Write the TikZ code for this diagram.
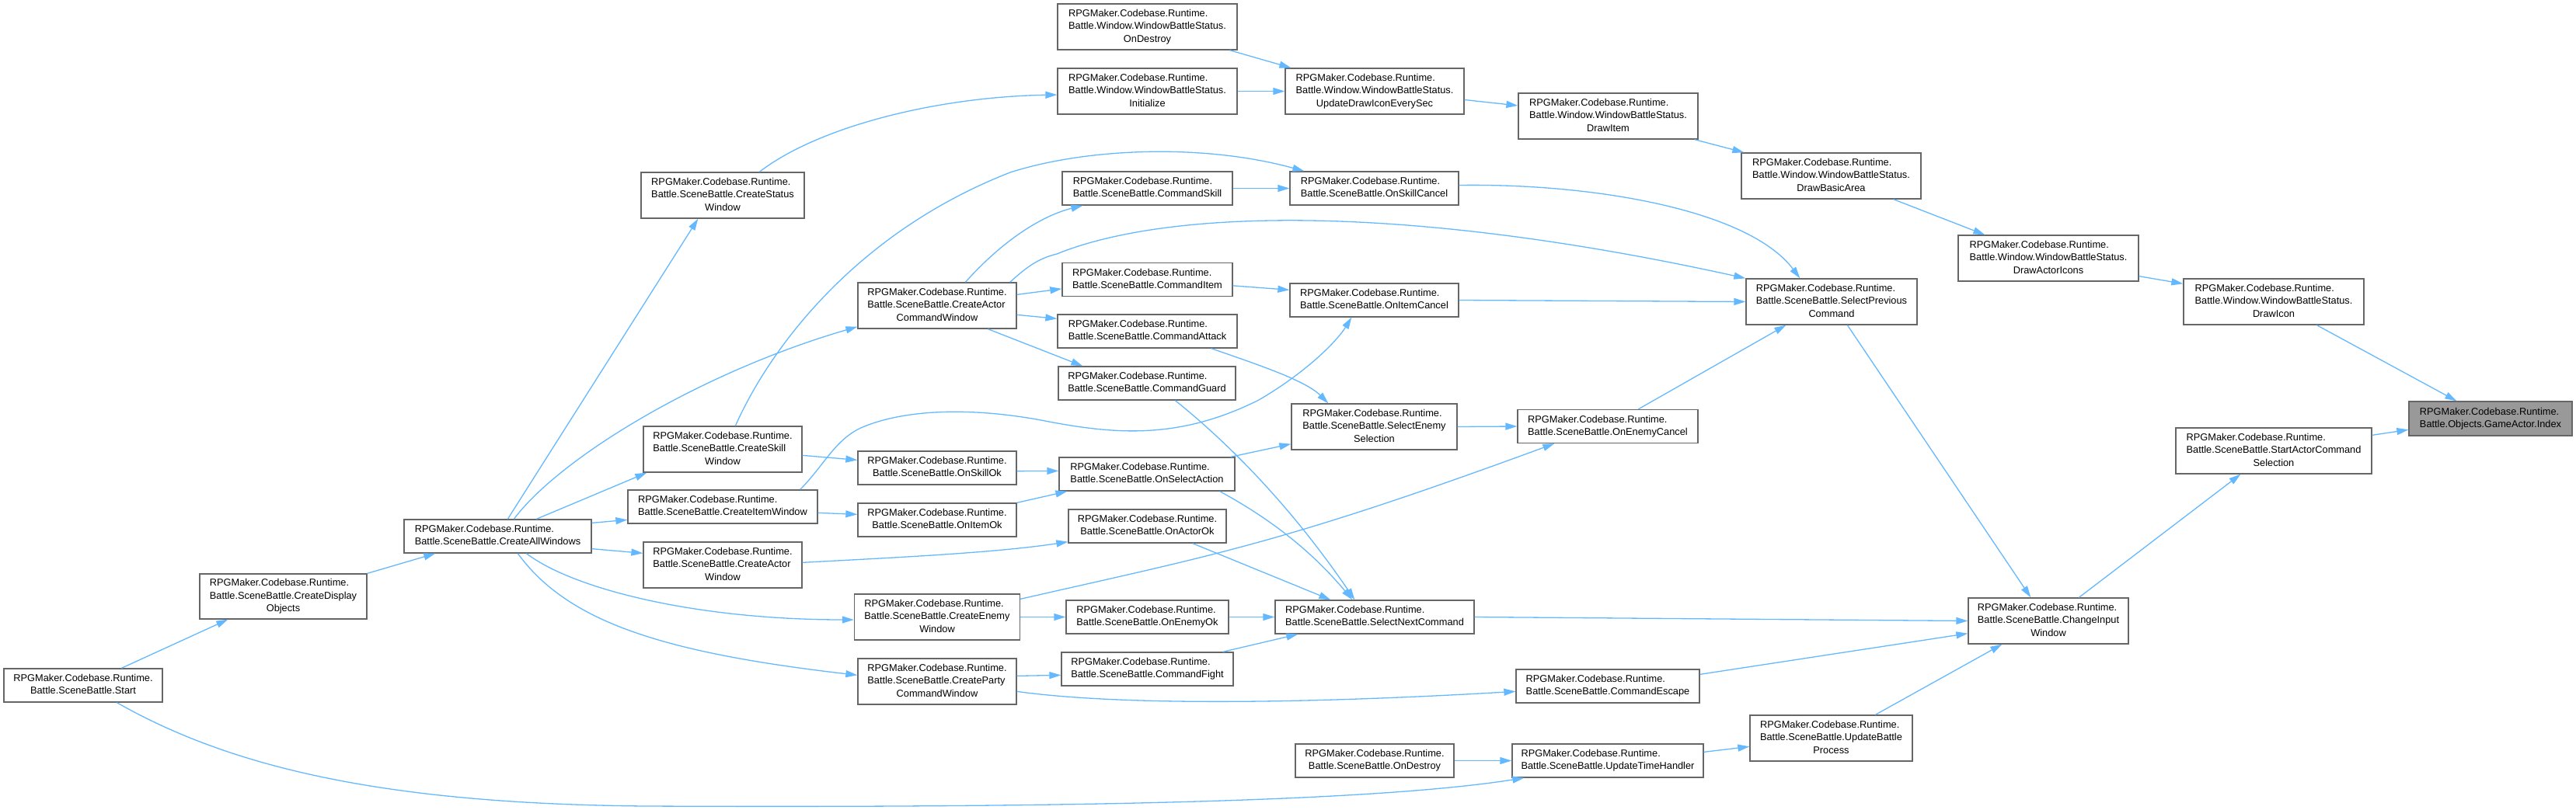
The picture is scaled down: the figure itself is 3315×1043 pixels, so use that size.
\documentclass[tikz,border=0pt]{standalone}
\usepackage{fontspec}
\setmainfont{Liberation Sans}
\usetikzlibrary{arrows.meta,calc}
\definecolor{edgec}{HTML}{63B8FF}
\definecolor{bordc}{HTML}{666666}
\definecolor{rootc}{HTML}{999999}
\newcommand{\rpg}{RPGMaker.Codebase.Runtime.}
\newlength{\lbw}\newlength{\lbt}
\newcommand{\maxw}[1]{\settowidth{\lbt}{#1}\ifdim\lbt>\lbw\setlength{\lbw}{\lbt}\fi}
\newcommand{\lblii}[2]{\setlength{\lbw}{0pt}\maxw{#1}\maxw{#2}\begin{tabular}{@{}l@{}}#1\\\makebox[\lbw][c]{#2}\end{tabular}}
\newcommand{\lbliii}[3]{\setlength{\lbw}{0pt}\maxw{#1}\maxw{#2}\maxw{#3}\begin{tabular}{@{}l@{}}#1\\#2\\\makebox[\lbw][c]{#3}\end{tabular}}
\begin{document}
\begin{tikzpicture}[x=1pt,y=-1pt,
  box/.style={draw=bordc,line width=1.3pt,fill=white,inner sep=0pt,font=\fontsize{12.8}{16.3}\selectfont},
  rootbox/.style={box,fill=rootc},
  e/.style={draw=edgec,line width=1.3pt,-{Triangle[length=15pt,width=9pt]}}]
\useasboundingbox (0,0) rectangle (3315,1043);

% column 0-1
\node[box,minimum width=204,minimum height=43] (start) at (107,882.5) {\lblii{\rpg}{Battle.SceneBattle.Start}};
\node[box,minimum width=215,minimum height=58] (cdo) at (364.5,768) {\lbliii{\rpg}{Battle.SceneBattle.CreateDisplay}{Objects}};
\node[box,minimum width=241,minimum height=43] (caw) at (640.5,690.5) {\lblii{\rpg}{Battle.SceneBattle.CreateAllWindows}};
% column 2
\node[box,minimum width=210,minimum height=59] (csw) at (930,251.5) {\lbliii{\rpg}{Battle.SceneBattle.CreateStatus}{Window}};
\node[box,minimum width=204,minimum height=59] (cskw) at (930,578.5) {\lbliii{\rpg}{Battle.SceneBattle.CreateSkill}{Window}};
\node[box,minimum width=244,minimum height=43] (ciw) at (930,652.5) {\lblii{\rpg}{Battle.SceneBattle.CreateItemWindow}};
\node[box,minimum width=204,minimum height=59] (cactw) at (930,727.5) {\lbliii{\rpg}{Battle.SceneBattle.CreateActor}{Window}};
% column 3
\node[box,minimum width=204,minimum height=59] (cacmd) at (1206,393.5) {\lbliii{\rpg}{Battle.SceneBattle.CreateActor}{CommandWindow}};
\node[box,minimum width=204,minimum height=43] (osko) at (1206,602.5) {\lblii{\rpg}{Battle.SceneBattle.OnSkillOk}};
\node[box,minimum width=204,minimum height=43] (oio) at (1206,669.5) {\lblii{\rpg}{Battle.SceneBattle.OnItemOk}};
\node[box,minimum width=213,minimum height=59] (cew) at (1206,794.5) {\lbliii{\rpg}{Battle.SceneBattle.CreateEnemy}{Window}};
\node[box,minimum width=204,minimum height=59] (cpcw) at (1206,877.5) {\lbliii{\rpg}{Battle.SceneBattle.CreateParty}{CommandWindow}};
% column 4
\node[box,minimum width=231,minimum height=59] (odw) at (1476.5,34.5) {\lbliii{\rpg}{Battle.Window.WindowBattleStatus.}{OnDestroy}};
\node[box,minimum width=231,minimum height=59] (init) at (1476.5,117.5) {\lbliii{\rpg}{Battle.Window.WindowBattleStatus.}{Initialize}};
\node[box,minimum width=219,minimum height=43] (csk) at (1476.5,242.5) {\lblii{\rpg}{Battle.SceneBattle.CommandSkill}};
\node[box,minimum width=219,minimum height=43] (cit) at (1476.5,360) {\lblii{\rpg}{Battle.SceneBattle.CommandItem}};
\node[box,minimum width=231,minimum height=43] (cat) at (1476.5,426.5) {\lblii{\rpg}{Battle.SceneBattle.CommandAttack}};
\node[box,minimum width=228,minimum height=43] (cgu) at (1476,493.5) {\lblii{\rpg}{Battle.SceneBattle.CommandGuard}};
\node[box,minimum width=226,minimum height=43] (osa) at (1476,610.5) {\lblii{\rpg}{Battle.SceneBattle.OnSelectAction}};
\node[box,minimum width=203,minimum height=43] (oao) at (1476.5,677.5) {\lblii{\rpg}{Battle.SceneBattle.OnActorOk}};
\node[box,minimum width=209,minimum height=43] (oeo) at (1476.5,794.5) {\lblii{\rpg}{Battle.SceneBattle.OnEnemyOk}};
\node[box,minimum width=221,minimum height=43] (cfi) at (1476.5,861.5) {\lblii{\rpg}{Battle.SceneBattle.CommandFight}};
% column 5
\node[box,minimum width=230,minimum height=59] (udi) at (1769,117.5) {\lbliii{\rpg}{Battle.Window.WindowBattleStatus.}{UpdateDrawIconEverySec}};
\node[box,minimum width=217,minimum height=43] (osc) at (1768.5,242.5) {\lblii{\rpg}{Battle.SceneBattle.OnSkillCancel}};
\node[box,minimum width=217,minimum height=43] (oic) at (1768.5,386.5) {\lblii{\rpg}{Battle.SceneBattle.OnItemCancel}};
\node[box,minimum width=213,minimum height=59] (ses) at (1768.5,549.5) {\lbliii{\rpg}{Battle.SceneBattle.SelectEnemy}{Selection}};
\node[box,minimum width=256,minimum height=43] (snc) at (1769,794.5) {\lblii{\rpg}{Battle.SceneBattle.SelectNextCommand}};
\node[box,minimum width=204,minimum height=43] (ods) at (1769,979.5) {\lblii{\rpg}{Battle.SceneBattle.OnDestroy}};
% column 6
\node[box,minimum width=231,minimum height=59] (dit) at (2069.5,149.5) {\lbliii{\rpg}{Battle.Window.WindowBattleStatus.}{DrawItem}};
\node[box,minimum width=232,minimum height=43] (oec) at (2069,549) {\lblii{\rpg}{Battle.SceneBattle.OnEnemyCancel}};
\node[box,minimum width=236,minimum height=43] (cesc) at (2069,883.5) {\lblii{\rpg}{Battle.SceneBattle.CommandEscape}};
\node[box,minimum width=246,minimum height=43] (uth) at (2069,979.5) {\lblii{\rpg}{Battle.SceneBattle.UpdateTimeHandler}};
% column 7
\node[box,minimum width=231,minimum height=59] (dba) at (2356.5,226.5) {\lbliii{\rpg}{Battle.Window.WindowBattleStatus.}{DrawBasicArea}};
\node[box,minimum width=220,minimum height=59] (spc) at (2357,388.5) {\lbliii{\rpg}{Battle.SceneBattle.SelectPrevious}{Command}};
\node[box,minimum width=209,minimum height=59] (ubp) at (2356.5,950.5) {\lbliii{\rpg}{Battle.SceneBattle.UpdateBattle}{Process}};
% column 8
\node[box,minimum width=232,minimum height=59] (dai) at (2636,332.5) {\lbliii{\rpg}{Battle.Window.WindowBattleStatus.}{DrawActorIcons}};
\node[box,minimum width=206,minimum height=59] (chin) at (2636,799.5) {\lbliii{\rpg}{Battle.SceneBattle.ChangeInput}{Window}};
% column 9
\node[box,minimum width=232,minimum height=59] (dic) at (2926,388.5) {\lbliii{\rpg}{Battle.Window.WindowBattleStatus.}{DrawIcon}};
\node[box,minimum width=252,minimum height=59] (sacs) at (2926,580.5) {\lbliii{\rpg}{Battle.SceneBattle.StartActorCommand}{Selection}};
% root
\node[rootbox,minimum width=210,minimum height=44] (gai) at (3205,539) {\lblii{\rpg}{Battle.Objects.GameActor.Index}};

% edges
\draw[e] ($(start.north west)+(152,0)$) -- ($(cdo.south west)+(37,0)$);
\draw[e] (cdo.north east) -- ($(caw.south west)+(41,0)$);
\draw[e] ($(caw.north west)+(134,0)$) -- ($(csw.south west)+(74,0)$);
\draw[e] ($(csw.north west)+(153,0)$) .. controls (1050,165) and (1200,125) .. ($(init.west)+(0,4.5)$);
\draw[e] (init.east) -- (udi.west);
\draw[e] ($(odw.south west)+(222,0)$) -- ($(udi.north west)+(8,0)$);
\draw[e] ($(udi.east)+(0,11)$) -- ($(dit.west)+(0,-13.5)$);
\draw[e] ($(dit.south east)+(-5,0)$) -- ($(dba.north west)+(4,0)$);
\draw[e] ($(dba.south east)+(-36,0)$) -- ($(dai.north west)+(35,0)$);
\draw[e] ($(dai.south east)+(0,-7)$) -- ($(dic.north west)+(0,7)$);
\draw[e] ($(dic.south west)+(172,0)$) -- ($(gai.north west)+(62,0)$);
\draw[e] ($(sacs.north east)+(0,10)$) -- ($(gai.north west)+(0,37)$);
\draw[e] ($(chin.north west)+(143,0)$) -- ($(sacs.south west)+(84,0)$);
\draw[e] ($(spc.south west)+(131,0)$) -- ($(chin.north west)+(81,0)$);
\draw[e] (snc.east) -- (chin.west);
\draw[e] ($(cesc.north east)+(0,7)$) -- ($(chin.south west)+(0,-14)$);
\draw[e] ($(ubp.north west)+(162,0)$) -- ($(chin.south west)+(44,0)$);
\draw[e] ($(uth.north east)+(0,11)$) -- ($(ubp.north west)+(0,41)$);
\draw[e] (ods.east) -- (uth.west);
\draw[e] ($(start.south west)+(146,0)$) .. controls (300,990) and (500,1035) .. (830,1038) .. controls (1300,1040) and (1750,1035) .. ($(uth.south west)+(16,0)$);
\draw[e] ($(osc.east)+(0,-4)$) .. controls (2050,236) and (2250,270) .. ($(spc.north west)+(70,0)$);
\draw[e] (oic.east) -- (spc.west);
\draw[e] ($(oec.north west)+(156,0)$) -- ($(spc.south west)+(52,0)$);
\draw[e] ($(cacmd.north east)+(-9,0)$) .. controls (1320,345) and (1335,333) .. (1360,327) .. controls (1500,270) and (1800,260) .. (spc.north west);
\draw[e] (csk.east) -- (osc.west);
\draw[e] ($(cskw.north west)+(119,0)$) .. controls (990,450) and (1100,300) .. (1300,222) .. controls (1400,190) and (1550,185) .. ($(osc.north west)+(19,0)$);
\draw[e] ($(cit.north east)+(0,30)$) -- ($(oic.north west)+(0,9)$);
\draw[e] ($(ciw.north east)+(-23,0)$) .. controls (1060,600) and (1075,565) .. (1110,550) .. controls (1170,525) and (1260,525) .. (1350,543) .. controls (1440,560) and (1520,565) .. (1620,515) .. controls (1680,480) and (1720,440) .. ($(oic.south west)+(80,0)$);
\draw[e] ($(cacmd.north west)+(139,0)$) .. controls (1290,310) and (1340,278) .. ($(csk.south west)+(27,0)$);
\draw[e] ($(cacmd.north east)+(0,16)$) -- ($(cit.north west)+(0,34)$);
\draw[e] ($(cacmd.north east)+(0,42)$) -- ($(cat.north west)+(0,6)$);
\draw[e] ($(cacmd.south west)+(168,0)$) -- ($(cgu.north west)+(32,0)$);
\draw[e] ($(caw.north west)+(142,0)$) .. controls (720,590) and (900,480) .. ($(cacmd.south west)+(0,-3)$);
\draw[e] ($(caw.north west)+(171,0)$) -- ($(cskw.south west)+(5,0)$);
\draw[e] ($(caw.north east)+(0,5)$) -- ($(ciw.north west)+(0,39)$);
\draw[e] ($(caw.south east)+(0,-6)$) -- ($(cactw.north west)+(0,15)$);
\draw[e] ($(caw.south west)+(158,0)$) .. controls (740,760) and (900,798) .. ($(cew.west)+(0,3.5)$);
\draw[e] ($(caw.south west)+(147,0)$) .. controls (730,800) and (850,840) .. ($(cpcw.north west)+(0,22)$);
\draw[e] ($(cat.south east)+(-34,0)$) .. controls (1620,470) and (1680,490) .. ($(ses.north west)+(48,0)$);
\draw[e] (ses.east) -- (oec.west);
\draw[e] ($(osa.north east)+(-6,0)$) -- ($(ses.south west)+(0,-8)$);
\draw[e] ($(osko.south east)+(0,-18)$) -- ($(osa.north west)+(0,18)$);
\draw[e] (oio.north east) -- ($(osa.south west)+(11,0)$);
\draw[e] ($(cskw.north east)+(0,38)$) -- ($(osko.north west)+(0,12)$);
\draw[e] ($(ciw.north east)+(0,30)$) -- ($(oio.north west)+(0,15)$);
\draw[e] ($(cactw.north east)+(0,27)$) .. controls (1150,718) and (1280,712) .. ($(oao.south west)+(0,-2)$);
\draw[e] ($(oao.south east)+(-44,0)$) -- ($(snc.north west)+(72,0)$);
\draw[e] (oeo.east) -- (snc.west);
\draw[e] ($(cfi.north east)+(-14,0)$) -- ($(snc.south west)+(30,0)$);
\draw[e] ($(cgu.south west)+(151,0)$) .. controls (1580,570) and (1660,650) .. ($(snc.north west)+(103,0)$);
\draw[e] ($(osa.south east)+(-20,0)$) .. controls (1620,660) and (1680,700) .. ($(snc.north west)+(100,0)$);
\draw[e] (cew.east) -- (oeo.west);
\draw[e] ($(cew.north east)+(0,7)$) .. controls (1560,715) and (1650,700) .. ($(oec.south west)+(48,0)$);
\draw[e] ($(cpcw.north east)+(0,23)$) -- ($(cfi.north west)+(0,30)$);
\draw[e] ($(cpcw.north east)+(0,43)$) .. controls (1450,910) and (1700,905) .. ($(cesc.north west)+(0,29)$);
\end{tikzpicture}
\end{document}
